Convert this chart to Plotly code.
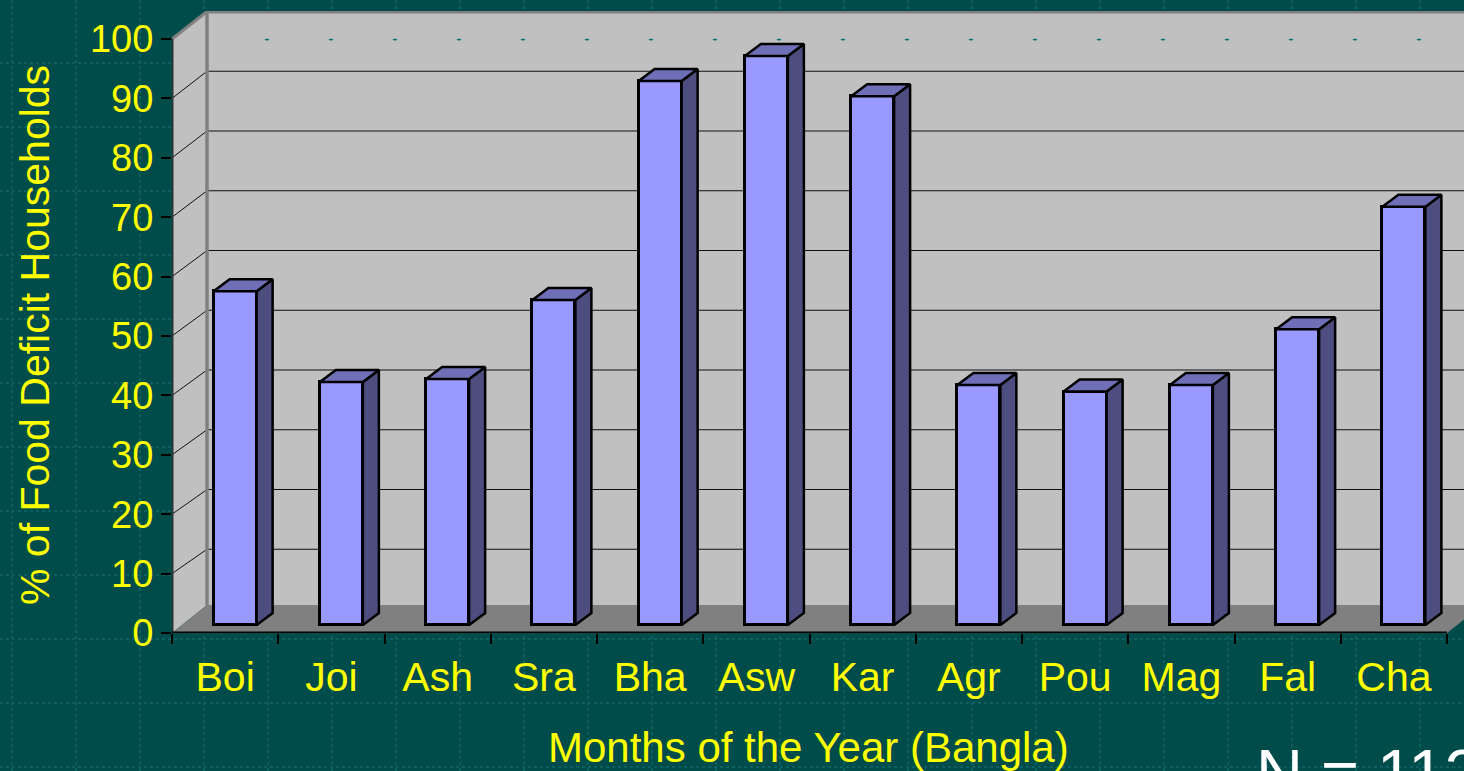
import plotly.graph_objects as go

months = ["Boi", "Joi", "Ash", "Sra", "Bha", "Asw", "Kar", "Agr", "Pou", "Mag", "Fal", "Cha"]
deficit = [56.2, 40.9, 41.4, 54.7, 91.6, 95.8, 89.0, 40.4, 39.3, 40.4, 49.8, 70.4]
y_ticks = [0, 10, 20, 30, 40, 50, 60, 70, 80, 90, 100]

W, H = 1464, 771
L, T, B = 172, 11, 138
PX = 106.25                     # pixels per category
PY = 5.94                       # pixels per percent
XMAX = (W - L) / PX
YMAX = (H - B - T) / PY
DX, DY = 35 / PX, 28 / PY       # wall depth
BX, BY = 16 / PX, 12 / PY       # bar depth
BASE = 8 / PY
BAR_W = 43 / PX
BAR_SHIFT = 10 / PX

YELLOW = "#ffff00"
BG = "#004c4a"
TEX = "#0c6062"


def poly(points, fill, line=None, width=0):
    path = "M " + " L ".join(f"{x:.4f},{y:.4f}" for x, y in points) + " Z"
    return dict(type="path", xref="x", yref="y", path=path, fillcolor=fill, layer="below",
                line=dict(color=line or fill, width=width))


def seg(x0, y0, x1, y1, color, width):
    return dict(type="line", xref="x", yref="y", x0=x0, y0=y0, x1=x1, y1=y1, layer="below",
                line=dict(color=color, width=width))


def page_x(p):
    return (p - L) / (W - L)


def page_y(p):
    return 1 - (p - T) / (H - B - T)


def wall_lift(v):
    return (24 + 0.035 * v) / PY


shapes = []
# background texture
for k in range(23):
    xp = 12 + 64 * k
    shapes.append(dict(type="line", xref="paper", yref="paper", x0=page_x(xp), x1=page_x(xp),
                       y0=page_y(0), y1=page_y(H), layer="below",
                       line=dict(color=TEX, width=2, dash="dot")))
for k in range(12):
    yp = 63 + 64 * k
    shapes.append(dict(type="line", xref="paper", yref="paper", x0=page_x(0), x1=page_x(W),
                       y0=page_y(yp), y1=page_y(yp), layer="below",
                       line=dict(color=TEX, width=2, dash="dot")))

# walls and floor
shapes.append(poly([(DX, DY), (XMAX + 1, DY), (XMAX + 1, 100 + wall_lift(100)), (DX, 100 + wall_lift(100))], "#c0c0c0"))
shapes.append(poly([(0, 0), (DX, DY), (DX, 100 + wall_lift(100)), (0, 100)], "#c0c0c0"))
shapes.append(poly([(0, 0), (12, 0), (12 + DX, DY), (DX, DY)], "#808080"))

# stray marks near the top of the wall
for k in range(19):
    xp = 267 + 64 * k
    xv = (xp - L) / PX
    shapes.append(seg(xv - 0.018, 99.9, xv + 0.018, 99.9, "#006a68", 1.5))

# gridlines
for v in y_ticks[1:-1]:
    shapes.append(seg(DX, v + wall_lift(v), XMAX + 1, v + wall_lift(v), "#111111", 1))
    shapes.append(seg(0, v, DX, v + wall_lift(v), "#111111", 1))

# wall borders
shapes.append(seg(DX, DY, DX, 100 + wall_lift(100), "#808080", 3.5))
shapes.append(seg(DX, 100 + wall_lift(100), XMAX + 1, 100 + wall_lift(100), "#808080", 4))
shapes.append(seg(0, 100, DX, 100 + wall_lift(100), "#808080", 3))
shapes.append(seg(0, 0, 0, 100, "#333333", 3))
shapes.append(seg(0, 0, 12, 0, "#000000", 3))

centers = [i + 0.5 + BAR_SHIFT for i in range(len(months))]

side_x, side_y, top_x, top_y = [], [], [], []
for c, v in zip(centers, deficit):
    x0, x1 = c - BAR_W / 2, c + BAR_W / 2
    t = BASE + v
    side_x += [x1, x1 + BX, x1 + BX, x1, x1, None]
    side_y += [BASE, BASE + BY, t + BY, t, BASE, None]
    top_x += [x0, x0 + BX, x1 + BX, x1, x0, None]
    top_y += [t, t + BY, t + BY, t, t, None]

fig = go.Figure()
fig.add_trace(go.Bar(x=centers, y=deficit, base=BASE, width=BAR_W,
                     marker=dict(color="#9999ff", line=dict(color="#000000", width=3)),
                     hoverinfo="skip", showlegend=False))
fig.add_trace(go.Scatter(x=side_x, y=side_y, mode="lines", fill="toself", fillcolor="#4d4d80",
                         line=dict(color="#000000", width=2.5), hoverinfo="skip", showlegend=False))
fig.add_trace(go.Scatter(x=top_x, y=top_y, mode="lines", fill="toself", fillcolor="#6f6fb8",
                         line=dict(color="#000000", width=2.5), hoverinfo="skip", showlegend=False))

annotations = [
    dict(text="Months of the Year (Bangla)", xref="paper", yref="paper", x=page_x(808), y=page_y(747),
         showarrow=False, xanchor="center", yanchor="middle", font=dict(size=42, color=YELLOW)),
    dict(text="% of Food Deficit Households", xref="paper", yref="paper", x=page_x(35), y=page_y(335),
         showarrow=False, textangle=-90, xanchor="center", yanchor="middle", font=dict(size=41, color=YELLOW)),
    dict(text="N = 112", xref="paper", yref="paper", x=page_x(1254), y=page_y(734),
         showarrow=False, xanchor="left", yanchor="top", font=dict(size=65, color="#ffffff")),
]

fig.update_layout(
    width=W, height=H,
    margin=dict(l=L, r=0, t=T, b=B, autoexpand=False),
    paper_bgcolor=BG, plot_bgcolor="rgba(0,0,0,0)",
    font=dict(family="Liberation Sans, Arial, sans-serif", color=YELLOW, size=38),
    bargap=0, shapes=shapes, annotations=annotations, showlegend=False,
    xaxis=dict(range=[0, XMAX], tickmode="array", tickvals=[i + 0.5 for i in range(12)], ticktext=months,
               ticks="", showgrid=False, zeroline=False, showline=False, ticklabelstandoff=16,
               tickfont=dict(size=41, color=YELLOW),
               minor=dict(ticks="outside", ticklen=10, tickwidth=1.5, tickcolor="#000000",
                          tickmode="array", tickvals=list(range(13)), showgrid=False)),
    yaxis=dict(range=[0, YMAX], tickmode="array", tickvals=y_ticks, ticks="outside", ticklen=10,
               tickwidth=1.5, tickcolor="#000000", showgrid=False, zeroline=False, showline=False,
               tickfont=dict(size=38, color=YELLOW)),
)

fig.write_html("out.html", config=dict(displayModeBar=False),
               post_script="document.body.style.margin='0';document.body.style.overflow='hidden';")
